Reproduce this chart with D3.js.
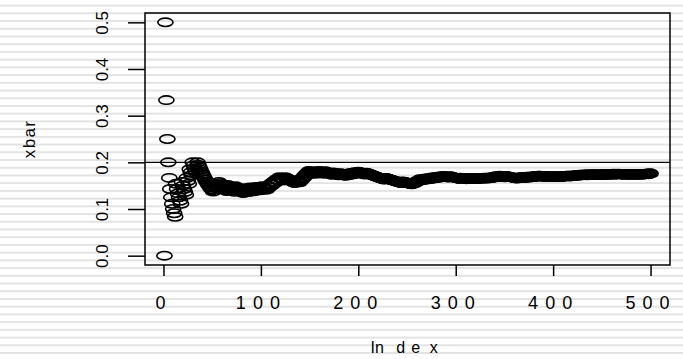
<!DOCTYPE html>
<html>
<head>
<meta charset="utf-8">
<script src="https://cdn.jsdelivr.net/npm/d3@7"></script>
<style>
  html, body { margin: 0; padding: 0; background: #fff; }
  svg { display: block; }
  text { font-family: "Liberation Sans", Arial, sans-serif; fill: #000; }
</style>
</head>
<body>
<script>
// Sample of 500 Bernoulli trials: the trial numbers that came up 1
const nTrials = 500;
const successAt = [
  2, 13, 19, 24, 27, 30, 35, 52, 57, 66, 74, 83, 89, 95, 101,
  107, 110, 113, 116, 119, 125, 136, 141, 143, 145, 147, 149,
  155, 160, 166, 174, 181, 188, 192, 196, 200, 208, 228, 245,
  256, 259, 261, 263, 267, 271, 275, 279, 283, 287, 294, 305, 312,
  318, 324, 329, 334, 338, 341, 345, 352, 364, 368, 373, 377, 381, 385,
  392, 399, 405, 410, 414, 419, 423, 427, 431, 436,
  441, 447, 452, 457, 462, 467, 474, 480, 486, 491, 495, 499
];
const referenceP = 0.2;
const xTicks = [0, 100, 200, 300, 400, 500];
const yTicks = [0, 0.1, 0.2, 0.3, 0.4, 0.5];
const xLabel = "Index";
const yLabel = "xbar";

// running mean of the sample after each trial
const hits = new Set(successAt);
let running = 0;
const xbar = d3.range(1, nTrials + 1).map(i => {
  if (hits.has(i)) running += 1;
  return { index: i, value: running / i };
});

const W = 683, H = 359;
const box = { left: 145, right: 670, top: 13, bottom: 265 };

const svg = d3.select("body").append("svg")
  .attr("width", W).attr("height", H);

// light horizontal rules behind everything
svg.append("g").selectAll("rect")
  .data(d3.range(0, 47))
  .join("rect")
  .attr("x", 0).attr("width", W)
  .attr("y", k => 4.6 + k * 7.72)
  .attr("height", 2)
  .attr("fill", "#e3e3e3");

// R-style axis extents: data range padded by 4% on each side
const xExt = d3.extent(xbar, d => d.index);
const xPad = (xExt[1] - xExt[0]) * 0.04;
const x = d3.scaleLinear()
  .domain([xExt[0] - xPad, xExt[1] + xPad])
  .range([box.left, box.right]);

const yExt = d3.extent(xbar, d => d.value);
const yPad = (yExt[1] - yExt[0]) * 0.04;
const y = d3.scaleLinear()
  .domain([yExt[0] - yPad, yExt[1] + yPad])
  .range([box.bottom, box.top]);

// points
svg.append("g")
  .selectAll("ellipse")
  .data(xbar)
  .join("ellipse")
  .attr("cx", d => x(d.index))
  .attr("cy", d => y(d.value))
  .attr("rx", 7.6)
  .attr("ry", 4.2)
  .attr("fill", "none")
  .attr("stroke", "#000")
  .attr("stroke-width", 1.6);

// reference line
svg.append("line")
  .attr("x1", box.left).attr("x2", box.right)
  .attr("y1", y(referenceP)).attr("y2", y(referenceP))
  .attr("stroke", "#000").attr("stroke-width", 1.2);

// plot frame
svg.append("rect")
  .attr("x", box.left).attr("y", box.top)
  .attr("width", box.right - box.left)
  .attr("height", box.bottom - box.top)
  .attr("fill", "none")
  .attr("stroke", "#000")
  .attr("stroke-width", 1.5);

// y axis
const gy = svg.append("g")
  .attr("transform", `translate(${box.left},0)`)
  .call(d3.axisLeft(y).tickValues(yTicks).tickSize(17).tickFormat(d3.format(".1f")));
gy.select(".domain").remove();
gy.selectAll(".tick line").attr("stroke", "#000").attr("stroke-width", 1.5);
gy.selectAll(".tick text")
  .attr("x", null).attr("dy", null)
  .attr("transform", "translate(-37,0) rotate(-90)")
  .attr("text-anchor", "middle")
  .attr("font-size", 17)
  .attr("font-family", "Liberation Sans, Arial, sans-serif")
  .attr("fill", "#000");

// x axis
const gx = svg.append("g")
  .attr("transform", `translate(0,${box.bottom})`)
  .call(d3.axisBottom(x).tickValues(xTicks).tickSize(11).tickFormat(d3.format("d")));
gx.select(".domain").remove();
gx.selectAll(".tick line").attr("stroke", "#000").attr("stroke-width", 1.5);
gx.selectAll(".tick text")
  .attr("y", 44).attr("dy", null)
  .attr("font-size", 18)
  .attr("letter-spacing", 7)
  .attr("font-family", "Liberation Sans, Arial, sans-serif")
  .attr("fill", "#000");

// axis titles
const xt = svg.append("text")
  .attr("x", 370.5)
  .attr("y", 353)
  .attr("text-anchor", "start")
  .attr("font-size", 16);
const gaps = [0, 0, 12.5, 6, 9.5];
xt.selectAll("tspan")
  .data(xLabel.split(""))
  .join("tspan")
  .attr("dx", (d, i) => gaps[i])
  .text(d => d);

svg.append("text")
  .attr("transform", `translate(35,${(box.top + box.bottom) / 2}) rotate(-90)`)
  .attr("text-anchor", "middle")
  .attr("font-size", 17)
  .attr("letter-spacing", 1.3)
  .text(yLabel);
</script>
</body>
</html>
